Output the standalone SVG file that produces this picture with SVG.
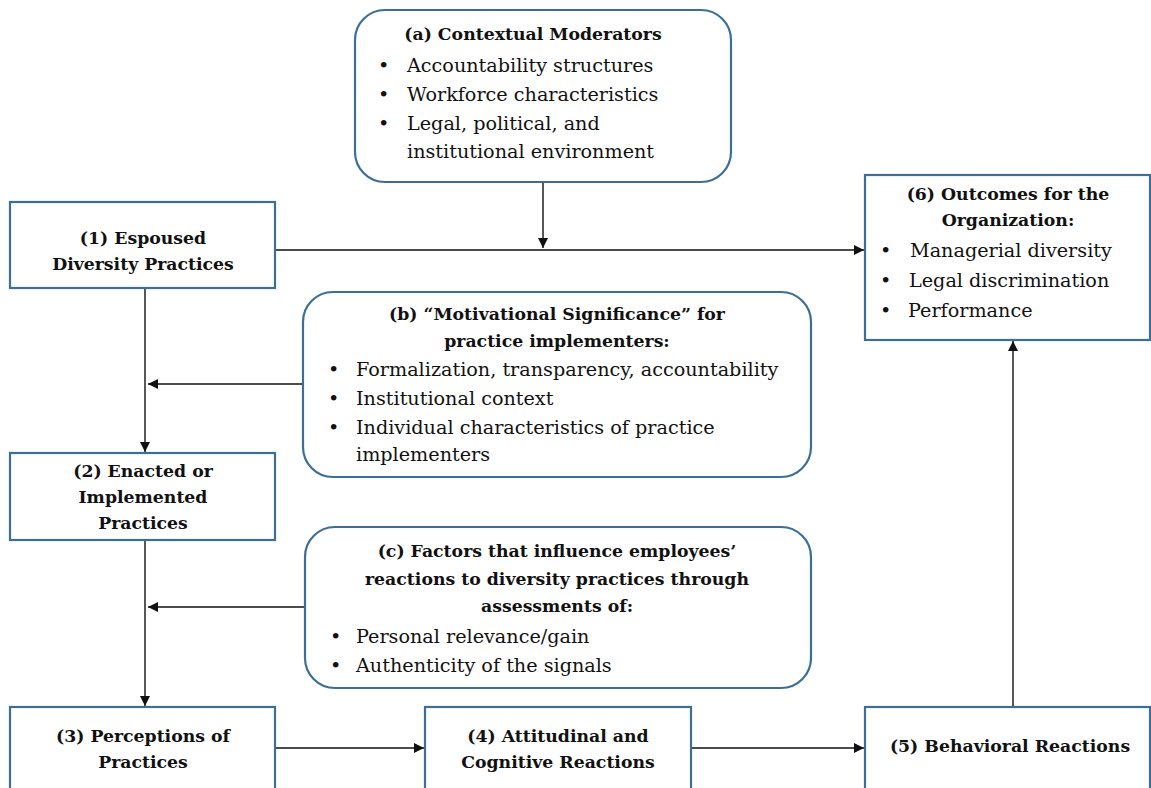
<svg xmlns="http://www.w3.org/2000/svg" width="1151" height="788" viewBox="0 0 1151 788">
<style>
.box{fill:#fff;stroke:#3b6f97;stroke-width:2.2}
.t{font-family:"DejaVu Serif","Liberation Serif",serif;font-size:19.2px;fill:#111}
.b{font-weight:bold;text-anchor:middle;font-size:17.3px}
.c{stroke:#111;stroke-width:1.4;fill:none;marker-end:url(#ah)}
</style>
<defs>
<marker id="ah" viewBox="0 0 10 10" refX="10" refY="5" markerWidth="11" markerHeight="10" markerUnits="userSpaceOnUse" orient="auto"><path d="M0,0L10,5L0,10z" fill="#111"/></marker>
</defs>
<rect width="1151" height="788" fill="#fff"/>
<g id="connectors">
<path class="c" d="M275,250H864"/>
<path class="c" d="M543,183V248"/>
<path class="c" d="M145,289V452"/>
<path class="c" d="M303,384H148"/>
<path class="c" d="M145,541V706"/>
<path class="c" d="M305,607H148"/>
<path class="c" d="M276,748H424"/>
<path class="c" d="M692,748H864"/>
<path class="c" d="M1013,706V341"/>
</g>
<g id="nodeA">
<rect class="box" x="355" y="10" width="376" height="172" rx="30"/>
<text class="t b" x="533" y="40">(a) Contextual Moderators</text>
<g class="t"><text x="378" y="72">•</text><text x="407" y="72">Accountability structures</text>
<text x="378" y="101">•</text><text x="407" y="101">Workforce characteristics</text>
<text x="378" y="130">•</text><text x="407" y="130">Legal, political, and</text>
<text x="407" y="158">institutional environment</text></g>
</g>
<g id="node1">
<rect class="box" x="10" y="202" width="265" height="86"/>
<text class="t b" x="143" y="244">(1) Espoused</text>
<text class="t b" x="143" y="270">Diversity Practices</text>
</g>
<g id="node6">
<rect class="box" x="865" y="175" width="285" height="165"/>
<text class="t b" x="1008" y="200">(6) Outcomes for the</text>
<text class="t b" x="1008" y="226">Organization:</text>
<g class="t"><text x="880" y="257">•</text><text x="910" y="257">Managerial diversity</text>
<text x="880" y="287">•</text><text x="909" y="287">Legal discrimination</text>
<text x="880" y="317">•</text><text x="908" y="317">Performance</text></g>
</g>
<g id="nodeB">
<rect class="box" x="303" y="292" width="508" height="185" rx="30"/>
<text class="t b" x="557" y="320">(b) “Motivational Significance” for</text>
<text class="t b" x="557" y="347">practice implementers:</text>
<g class="t"><text x="328" y="376">•</text><text x="356" y="376">Formalization, transparency, accountability</text>
<text x="328" y="405">•</text><text x="356" y="405">Institutional context</text>
<text x="328" y="434">•</text><text x="356" y="434">Individual characteristics of practice</text>
<text x="356" y="461">implementers</text></g>
</g>
<g id="node2">
<rect class="box" x="10" y="453" width="265" height="87"/>
<text class="t b" x="143" y="477">(2) Enacted or</text>
<text class="t b" x="143" y="503">Implemented</text>
<text class="t b" x="143" y="529">Practices</text>
</g>
<g id="nodeC">
<rect class="box" x="305" y="527" width="506" height="161" rx="30"/>
<text class="t b" x="557" y="557">(c) Factors that influence employees’</text>
<text class="t b" x="557" y="585">reactions to diversity practices through</text>
<text class="t b" x="557" y="612">assessments of:</text>
<g class="t"><text x="330" y="643">•</text><text x="356" y="643">Personal relevance/gain</text>
<text x="330" y="672">•</text><text x="356" y="672">Authenticity of the signals</text></g>
</g>
<g id="node3">
<rect class="box" x="10" y="707" width="265" height="90"/>
<text class="t b" x="143" y="742">(3) Perceptions of</text>
<text class="t b" x="143" y="768">Practices</text>
</g>
<g id="node4">
<rect class="box" x="425" y="707" width="266" height="90"/>
<text class="t b" x="558" y="742">(4) Attitudinal and</text>
<text class="t b" x="558" y="768">Cognitive Reactions</text>
</g>
<g id="node5">
<rect class="box" x="865" y="707" width="285" height="90"/>
<text class="t b" x="1010" y="752">(5) Behavioral Reactions</text>
</g>
</svg>
